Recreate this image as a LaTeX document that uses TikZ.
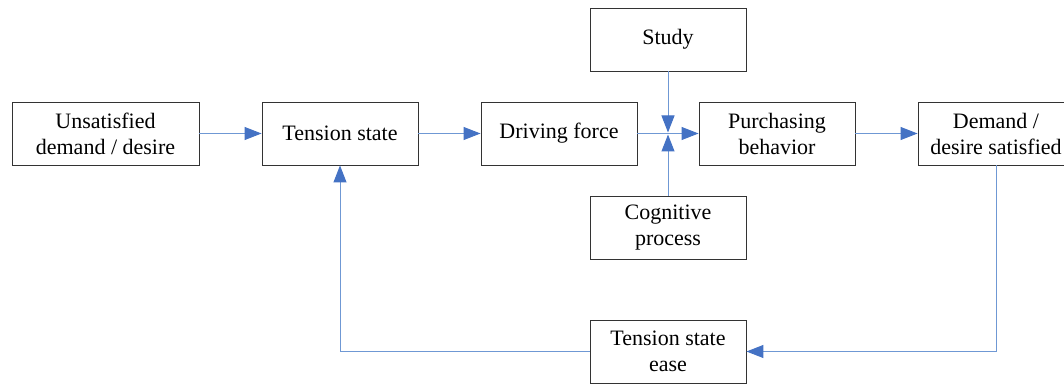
\documentclass[tikz,border=0pt]{standalone}
\usepackage{fontspec}
\setmainfont{Liberation Serif}
\usetikzlibrary{arrows.meta}
\definecolor{lnk}{HTML}{6F98D4}
\definecolor{tip}{HTML}{4472C4}
\begin{document}
\begin{tikzpicture}[x=1pt,y=1pt,
  box/.style={draw=black!80,line width=0.9pt,fill=white,minimum width=156pt,minimum height=63pt,inner sep=0pt,align=center,font=\fontsize{22}{26}\selectfont},
  link/.style={draw=lnk,line width=1pt,-{Triangle[length=17pt,width=13pt,fill=tip,color=tip]}}]
\useasboundingbox (0,0) rectangle (1064,386);
\node[box,minimum width=187pt] (unsat) at (105.5,252.5) {Unsatisfied\\demand / desire};
\node[box] (tension) at (340,252.5) {Tension state};
\node[box] (drive) at (559,252.5) {Driving force};
\node[box] (study) at (668,346.5) {Study};
\node[box] (purch) at (777,252.5) {Purchasing\\behavior};
\node[box] (demand) at (996,252.5) {Demand /\\desire satisfied};
\node[box] (cog) at (668,158.5) {Cognitive\\process};
\node[box] (ease) at (668,34.5) {Tension state\\ease};
\coordinate (j) at (668,252.5);
\draw[link] (unsat) -- (tension);
\draw[link] (tension) -- (drive);
\draw[link] (drive) -- (purch);
\draw[link] (study) -- ([yshift=1pt]j);
\draw[link] (cog) -- ([yshift=-1pt]j);
\draw[link] (purch) -- (demand);
\draw[link] (demand.south) |- (ease.east);
\draw[link] (ease.west) -| (tension.south);
\end{tikzpicture}
\end{document}
